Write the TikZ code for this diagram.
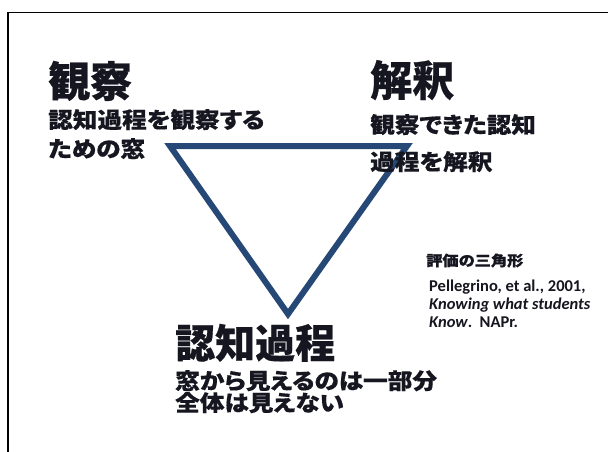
\documentclass[tikz,border=0pt]{standalone}
\usepackage{fontspec}
\setmainfont{Carlito}
\newfontfamily\cjk[RawFeature=+palt, BoldFeatures={FakeBold=0.6}]{Noto Sans CJK JP}
\newfontfamily\cjkw[RawFeature=+palt, FakeStretch=1.12, BoldFeatures={FakeBold=0.5}]{Noto Sans CJK JP}
\definecolor{tri}{RGB}{38,72,118}
\definecolor{ink}{RGB}{22,22,32}
\begin{document}
\begin{tikzpicture}[x=1pt,y=-1pt,
  txt/.style={inner sep=0pt, anchor=base west, text=ink},
  big/.style={txt, font=\cjk\bfseries\fontsize{42pt}{42pt}\selectfont},
  mid/.style={txt, font=\cjkw\bfseries\fontsize{22pt}{22pt}\selectfont},
  ref/.style={txt, font=\bfseries\fontsize{16.5pt}{16.5pt}\selectfont},
  refj/.style={txt, font=\cjkw\bfseries\fontsize{14.5pt}{14.5pt}\selectfont}]
\useasboundingbox (0,0) rectangle (608,452);
\fill[white] (0,0) rectangle (608,452);
% frame
\coordinate (f1) at (608,12.5);
\coordinate (f2) at (8,12.5);
\coordinate (f3) at (8,452);
\draw[line width=1.8pt, line join=miter] (f1) -- (f2) -- (f3);
% triangle
\coordinate (A) at (170,146);
\coordinate (B) at (407,146);
\coordinate (C) at (288,314);
\draw[tri, line width=6pt, line join=miter] (A) -- (B) -- (C) -- cycle;
% observation
\node[big] (obs) at (48,97) {観察};
\node[mid] (obs1) at (48,128) {認知過程を観察する};
\node[mid] (obs2) at (48,157) {ための窓};
% interpretation
\node[big] (int) at (370,96) {解釈};
\node[mid] (int1) at (370,133) {観察できた認知};
\node[mid] (int2) at (370,170) {過程を解釈};
% cognition
\node[big,font=\cjk\bfseries\fontsize{40pt}{40pt}\selectfont] (cog) at (175,358) {認知過程};
\node[mid] (cog1) at (175,389) {窓から見えるのは一部分};
\node[mid] (cog2) at (175,411) {全体は見えない};
% reference
\node[refj] (r0) at (426,266) {評価の三角形};
\node[ref] (r1) at (429,291) {Pellegrino, et al., 2001,};
\node[ref] (r2) at (429,309) {\itshape Knowing what students};
\node[ref] (r3) at (429,327) {{\itshape Know}.\ \ NAPr.};
\end{tikzpicture}
\end{document}
